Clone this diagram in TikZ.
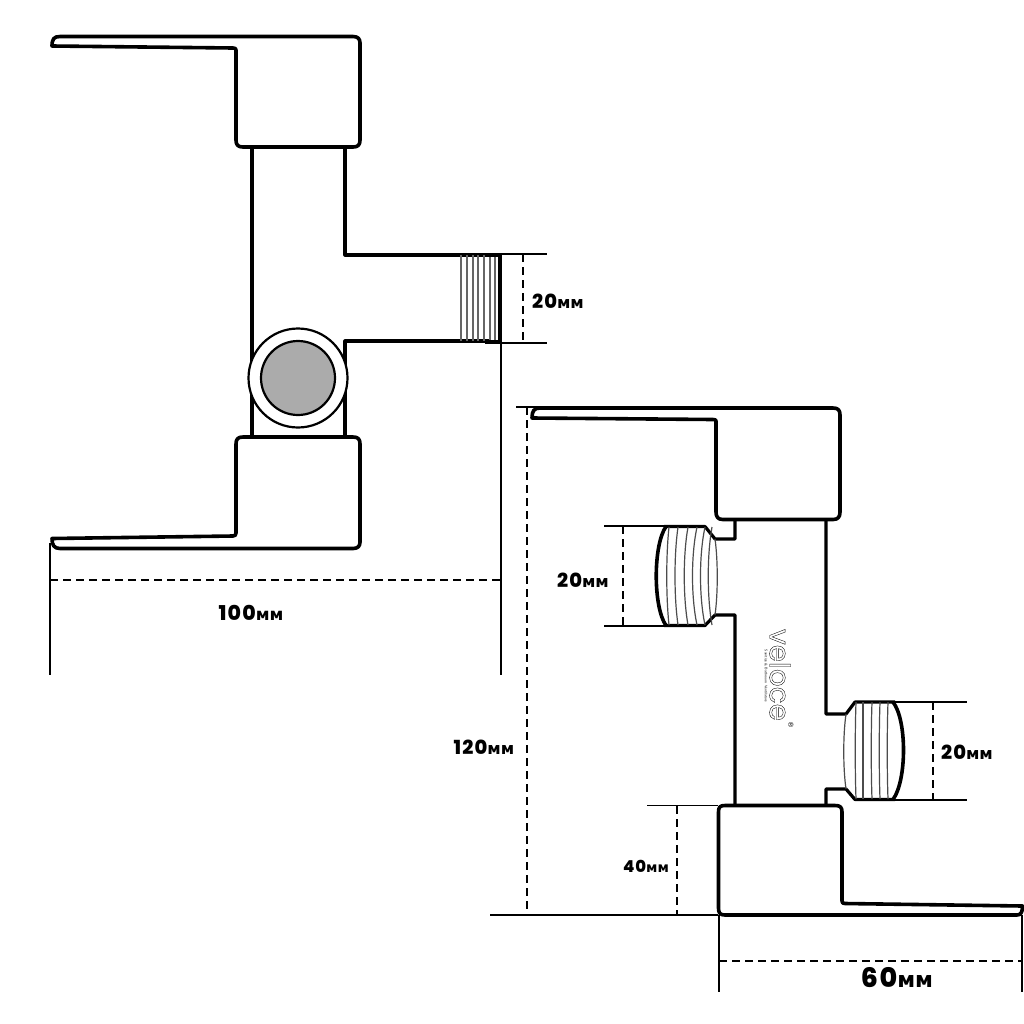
\documentclass[tikz,border=0pt]{standalone}
\usepackage{fontspec}
\newfontfamily\dimfont{Poppins}[BoldFont={* ExtraBold},LetterSpace=6]
\newfontfamily\cyrfont{DejaVu Sans}
\newfontfamily\logofont{Poppins}
\tikzset{
  outline/.style={line width=3.6bp,line join=round},
  thin outline/.style={line width=3.2bp,line join=round},
  ext/.style={line width=1.6bp},
  dim/.style={line width=2bp,dash pattern=on 8bp off 5bp},
  hatch/.style={line width=1.1bp,draw=black!60},
  thread/.style={line width=1.2bp,draw=black!70},
  dimlabel/.style={font=\fontsize{19.5}{20}\selectfont\dimfont\bfseries,inner sep=0},
}
\newcommand{\mm}[1]{#1{\fontsize{16.5}{17}\selectfont\cyrfont\bfseries мм}}
\newcommand{\outlined}[1]{\special{pdf:code 1 Tr 0.35 w}#1\special{pdf:code 0 Tr}}
\begin{document}
\begin{tikzpicture}[x=1bp,y=-1bp]
\useasboundingbox (0,0) rectangle (1024,1024);
\fill[white] (0,0) rectangle (1024,1024);
% ---- left assembly: stem
\draw[thin outline] (252,147) -- (252,437);
\draw[thin outline] (345,147) -- (345,255) -- (490,255);
\draw[thin outline] (345,437) -- (345,341) -- (490,341);
\foreach \x in {461,467,473,478,484,490,495} \draw[hatch] (\x,255) -- (\x,341);
\draw[line width=4.2bp] (500,254) -- (500,343);
\draw[line width=4.2bp] (485,255) -- (500,255) (485,342) -- (500,342);
% top handle
\draw[outline] (52,46) .. controls (52,39) and (54,36.5) .. (60,36.5) -- (353,36.5)
  .. controls (358,36.5) and (360,39) .. (360,43) -- (360,140)
  .. controls (360,145) and (358,147) .. (353,147) -- (243,147)
  .. controls (238,147) and (236,145) .. (236,140) -- (236,50)
  .. controls (236,48.5) and (235,48) .. (233,48) -- cycle;
% bottom handle
\draw[outline] (52,538.5) .. controls (52,545) and (54,548.5) .. (60,548.5) -- (353,548.5)
  .. controls (358,548.5) and (360,546) .. (360,542) -- (360,444)
  .. controls (360,439) and (358,437) .. (353,437) -- (243,437)
  .. controls (238,437) and (236,439) .. (236,444) -- (236,533)
  .. controls (236,535) and (235,536) .. (233,536) -- cycle;
% valve
\draw[line width=2.2bp,fill=white] (298,378) circle (49.5);
\draw[line width=2.2bp,fill=black!33] (298,378) circle (37);
% left dimensions
\draw[ext] (485,254) -- (547,254) (485,343) -- (547,343);
\draw[dim] (523,254) -- (523,343);
\node[dimlabel] (a20) at (558,301) {\mm{20}};
\draw[ext] (501,343) -- (501,675);
\draw[ext] (50,543) -- (50,675);
\draw[dim] (50,580) -- (501,580);
\node[dimlabel,font=\fontsize{20.5}{21}\selectfont\dimfont\bfseries] (a100) at (251,613) {100{\fontsize{17}{17}\selectfont\cyrfont\bfseries мм}};
% ---- right assembly: stem and fittings
\draw[thin outline] (735,519) -- (735,539) -- (715,539) -- (705,526.5) -- (664,526.5);
\draw[thin outline] (735,805) -- (735,615) -- (715,615) -- (705,625.5) -- (664,625.5);
\draw[line width=3.6bp] (666,526.5) .. controls (653,545) and (653,607) .. (666,625.5);
\draw[thread] (715,539) .. controls (718,560) and (718,594) .. (715,615);
\foreach \xa/\xb in {669/666,678/674,688/683,697/691,705/699,712/707}
  \draw[thread] (\xa,527) .. controls (\xb,555) and (\xb,597) .. (\xa,625);
\draw[thin outline] (826,519) -- (826,714) -- (846,714) -- (855,702) -- (895,702);
\draw[thin outline] (826,805) -- (826,789) -- (846,789) -- (855,799.5) -- (895,799.5);
\draw[line width=3.6bp] (893,702) .. controls (907,720) and (907,780) .. (893,799.5);
\draw[thread] (846,714) .. controls (843,735) and (843,768) .. (846,789);
\foreach \xa/\xb in {856/852,863/860,872/868,880/876,888/884}
  \draw[thread] (\xa,702) .. controls (\xb+3,730) and (\xb+3,772) .. (\xa,799);
% top handle
\draw[outline] (532,418) .. controls (532,411) and (534,408) .. (540,408) -- (833,408)
  .. controls (838,408) and (840,410) .. (840,415) -- (840,512)
  .. controls (840,517) and (838,519.5) .. (833,519.5) -- (723,519.5)
  .. controls (718,519.5) and (716,517) .. (716,512) -- (716,421)
  .. controls (716,420) and (715,419.5) .. (713,419.5) -- cycle;
% bottom handle
\draw[outline] (1022.5,906) .. controls (1022.5,912) and (1021,915) .. (1017,915) -- (725,915)
  .. controls (720,915) and (718.5,913) .. (718.5,908) -- (718.5,812)
  .. controls (718.5,807) and (720,805.5) .. (725,805.5) -- (835,805.5)
  .. controls (840,805.5) and (842,807) .. (842,812) -- (842,901)
  .. controls (842,903) and (843,903.5) .. (845,903.5) -- cycle;
% right dimensions
\draw[ext] (604,526) -- (668,526) (604,626) -- (668,626);
\draw[dim] (623,526) -- (623,626);
\node[dimlabel] (b20l) at (583,580) {\mm{20}};
\draw[ext] (893,702) -- (967,702) (893,800) -- (967,800);
\draw[dim] (933,702) -- (933,800);
\node[dimlabel] (b20r) at (967,752) {\mm{20}};
\draw[ext] (516,407) -- (540,407);
\draw[line width=2.2bp] (490,915) -- (718,915);
\draw[ext] (647,805.5) -- (718,805.5);
\draw[dim] (527,407) -- (527,915);
\draw[dim] (677,806) -- (677,915);
\node[dimlabel] (b120) at (484,747) {\mm{120}};
\node[dimlabel,font=\fontsize{16.5}{17}\selectfont\dimfont\bfseries] (b40) at (646,866) {40{\fontsize{14}{14}\selectfont\cyrfont\bfseries мм}};
\draw[ext] (719,915) -- (719,992) (1022,915) -- (1022,992);
\draw[dim] (719,961) -- (1022,961);
\node[dimlabel,font=\fontsize{27}{27}\selectfont\dimfont\bfseries] (b60) at (897,978) {60{\fontsize{22}{22}\selectfont\cyrfont\bfseries мм}};
% logo
\node[rotate=-90,inner sep=0,font=\fontsize{28}{28}\selectfont\logofont] (logo) at (780,675) {\outlined{veloce}};
\node[rotate=-90,inner sep=0,font=\fontsize{3.6}{4}\selectfont\sffamily] (tag) at (766,676) {Sanitize \& Bathroom Ventilators};
\node[rotate=-90,inner sep=0,font=\fontsize{7}{7}\selectfont\cyrfont] (reg) at (791,725) {®};
\end{tikzpicture}
\end{document}
